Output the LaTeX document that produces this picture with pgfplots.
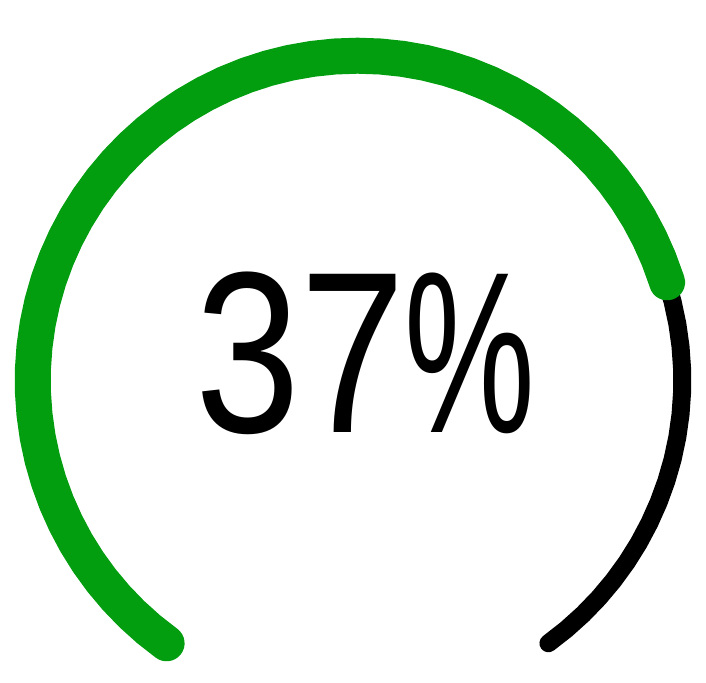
\documentclass[border=0pt]{standalone}
\usepackage{pgfplots}
\pgfplotsset{compat=1.18}
\usepackage{fontspec}
\setmainfont[FakeStretch=0.82]{Liberation Sans}
\definecolor{gaugegreen}{RGB}{2,158,16}
\begin{document}
\begin{tikzpicture}
\begin{axis}[
  width=353pt, height=341pt, scale only axis,
  xmin=-357.5, xmax=348.5, ymin=-301.5, ymax=380.5,
  hide axis, clip=false,
]
\path (rel axis cs:0,0) rectangle (rel axis cs:1,1);
% background (full range) arc, polar coordinates (angle, radius)
\addplot[black, line width=9pt, line cap=round, line join=round, data cs=polar] coordinates {
(234,324.8)(230,324.8)(226,324.8)(222,324.8)(218,324.8)(214,324.8)(210,324.8)(206,324.8)(202,324.8)
(198,324.8)(194,324.8)(190,324.8)(186,324.8)(182,324.8)(178,324.8)(174,324.8)(170,324.8)(166,324.8)
(162,324.8)(158,324.8)(154,324.8)(150,324.8)(146,324.8)(142,324.8)(138,324.8)(134,324.8)(130,324.8)
(126,324.8)(122,324.8)(118,324.8)(114,324.8)(110,324.8)(106,324.8)(102,324.8)(98,324.8)(94,324.8)
(90,324.8)(86,324.8)(82,324.8)(78,324.8)(74,324.8)(70,324.8)(66,324.8)(62,324.8)(58,324.8)
(54,324.8)(50,324.8)(46,324.8)(42,324.8)(38,324.8)(34,324.8)(30,324.8)(26,324.8)(22,324.8)
(18,324.8)(14,324.8)(10,324.8)(6,324.8)(2,324.8)(-2,324.8)(-6,324.8)(-10,324.8)(-14,324.8)
(-18,324.8)(-22,324.8)(-26,324.8)(-30,324.8)(-34,324.8)(-38,324.8)(-42,324.8)(-46,324.8)(-50,324.8)(-54,324.8)
};
% value arc
\addplot[gaugegreen, line width=18pt, line cap=round, line join=round, data cs=polar] coordinates {
(234,324.8)(230,324.8)(226,324.8)(222,324.8)(218,324.8)(214,324.8)(210,324.8)(206,324.8)(202,324.8)
(198,324.8)(194,324.8)(190,324.8)(186,324.8)(182,324.8)(178,324.8)(174,324.8)(170,324.8)(166,324.8)
(162,324.8)(158,324.8)(154,324.8)(150,324.8)(146,324.8)(142,324.8)(138,324.8)(134,324.8)(130,324.8)
(126,324.8)(122,324.8)(118,324.8)(114,324.8)(110,324.8)(106,324.8)(102,324.8)(98,324.8)(94,324.8)
(90,324.8)(86,324.8)(82,324.8)(78,324.8)(74,324.8)(70,324.8)(66,324.8)(62,324.8)(58,324.8)
(54,324.8)(50,324.8)(46,324.8)(42,324.8)(38,324.8)(34,324.8)(30,324.8)(26,324.8)(22,324.8)
(18,324.8)(17.6,324.8)
};
\node[anchor=base, inner sep=0pt, font=\fontsize{115}{120}\selectfont] at (axis cs:8,-51.5) {37\scalebox{0.78}[1]{\%}};
\end{axis}
\end{tikzpicture}
\end{document}
